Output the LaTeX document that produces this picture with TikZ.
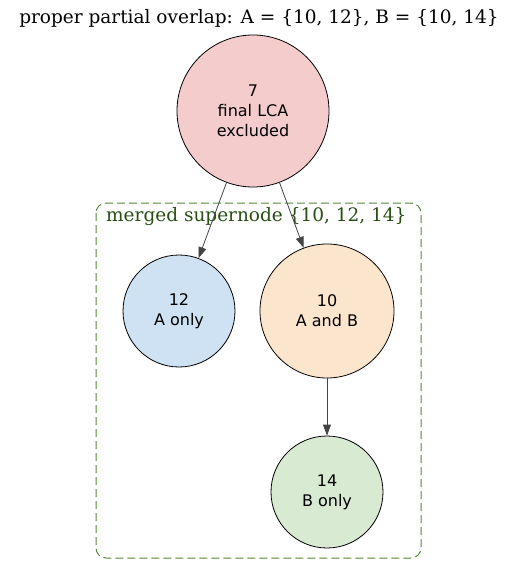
\documentclass[tikz,border=0pt]{standalone}
\usepackage{fontspec}
\setmainfont{DejaVu Serif}
\newfontfamily\nodefont{DejaVu Sans}
\usetikzlibrary{arrows.meta}

\definecolor{lcared}{HTML}{F4CCCC}
\definecolor{onlyblue}{HTML}{CFE2F3}
\definecolor{bothorange}{HTML}{FCE5CD}
\definecolor{onlygreen}{HTML}{D9EAD3}
\definecolor{clustergreen}{HTML}{558838}
\definecolor{labelgreen}{HTML}{274E13}
\definecolor{edgegray}{HTML}{444444}

\begin{document}
\begin{tikzpicture}[x=1pt,y=-1pt,
    vertex/.style={circle,draw=black,line width=0.8pt,align=center,inner sep=0pt,
        font=\nodefont\fontsize{16}{20}\selectfont},
    edge/.style={draw=edgegray,line width=0.8pt,
        -{Triangle[length=11pt,width=8pt,fill=edgegray]}},
    cluster/.style={draw=clustergreen,dash pattern=on 8pt off 4pt,
        line width=1pt,rounded corners=10pt}]

    % Fix the page size (pixels of the reference)
    \useasboundingbox (0,0) rectangle (517,575);

    % Title
    \node (title) at (259,18) {\fontsize{18.5}{22}\selectfont proper partial overlap: A = \{10, 12\}, B = \{10, 14\}};

    % The merged supernode cluster
    \draw[cluster] (96,203) rectangle (421,558);
    \node[anchor=west,text=labelgreen,inner sep=0pt] (clusterlabel) at (106,217)
        {\fontsize{18.5}{22}\selectfont merged supernode \{10, 12, 14\}};

    % The nodes
    \node[vertex,fill=lcared,minimum size=152pt] (n7) at (253,111) {7\\final LCA\\excluded};
    \node[vertex,fill=onlyblue,minimum size=112pt] (n12) at (179,311) {12\\A only};
    \node[vertex,fill=bothorange,minimum size=134pt] (n10) at (327,311) {10\\A and B};
    \node[vertex,fill=onlygreen,minimum size=112pt] (n14) at (327,492) {14\\B only};

    % The edges
    \draw[edge] (n7) -- (n12);
    \draw[edge] (n7) -- (n10);
    \draw[edge] (n10) -- (n14);
\end{tikzpicture}
\end{document}
